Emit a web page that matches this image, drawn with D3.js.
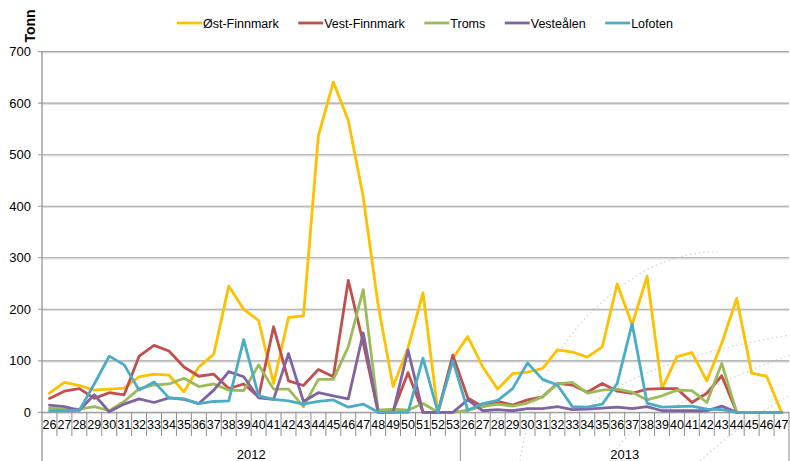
<!DOCTYPE html>
<html>
<head>
<meta charset="utf-8">
<script src="https://cdn.jsdelivr.net/npm/d3@7"></script>
<style>
  html, body { margin: 0; padding: 0; background: #fff; }
  svg { display: block; font-family: "Liberation Sans", Arial, sans-serif; }
</style>
</head>
<body>
<svg id="chart" width="790" height="461"></svg>
<script>
// ---- data ----
const years = ["2012", "2013"];
const weeks2012 = [26,27,28,29,30,31,32,33,34,35,36,37,38,39,40,41,42,43,44,45,46,47,48,49,50,51,52,53];
const weeks2013 = [26,27,28,29,30,31,32,33,34,35,36,37,38,39,40,41,42,43,44,45,46,47];
const seriesNames = ["Øst-Finnmark", "Vest-Finnmark", "Troms", "Vesteålen", "Lofoten"];
const seriesColors = ["#FFC000", "#C0504D", "#9BBB59", "#8064A2", "#4BACC6"];
const yTicks = [0, 100, 200, 300, 400, 500, 600, 700];

const ostFinnmark = [37,58,52,43,45,47,69,74,72,40,88,113,245,200,178,56,184,187,537,641,567,418,208,50,125,232,0,105,
                     147,88,45,75,78,85,121,117,107,127,249,170,264,46,108,116,61,134,221,76,70,0];
const vestFinnmark = [27,41,46,27,38,34,109,130,119,88,70,74,46,55,30,166,61,52,83,69,256,135,0,2,77,0,0,111,
                      28,11,21,14,24,30,56,53,39,56,41,37,45,46,46,19,37,71,0,0,0,0];
const troms = [8,6,6,11,3,21,46,53,55,66,50,55,43,42,92,45,45,11,64,64,127,238,4,6,4,17,0,0,
               4,11,16,12,18,30,55,58,37,43,45,39,24,32,43,42,19,95,0,0,0,0];
const vesteralen = [14,11,4,34,1,16,26,19,28,25,17,43,79,69,28,25,114,21,38,32,26,154,0,0,121,0,0,0,
                    24,3,5,3,7,7,11,5,6,8,10,7,11,3,3,3,3,12,0,0,0,0];
const lofoten = [3,3,4,55,109,92,43,59,28,26,17,21,22,141,32,25,22,16,21,24,10,16,0,0,0,105,0,100,
                 4,17,23,46,96,64,53,11,10,16,56,172,18,10,11,12,6,5,0,0,0,0];

const seriesValues = [ostFinnmark, vestFinnmark, troms, vesteralen, lofoten];
const categories = weeks2012.map(w => "2012-" + w).concat(weeks2013.map(w => "2013-" + w));
const catLabel = weeks2012.concat(weeks2013);
const groupSizes = [weeks2012.length, weeks2013.length];

// ---- layout ----
const svg = d3.select("#chart");
const L = 42, R = 789, T = 51.7, B = 412.3;

// faint watermark arcs (background decoration)
const wm = svg.append("g").attr("fill", "none").attr("stroke", "#c9d9e4")
  .attr("stroke-width", 1.3).attr("stroke-dasharray", "1.5,3");
wm.append("path").attr("d", "M520,461 Q540,330 650,268 Q690,250 720,252");
wm.append("path").attr("d", "M585,410 Q640,360 790,335");
wm.append("path").attr("d", "M650,420 Q720,380 790,355");
wm.append("path").attr("d", "M700,461 Q745,420 790,395");
wm.append("path").attr("d", "M610,461 Q620,440 640,425");

const x = d3.scaleBand().domain(categories).range([L, R]).padding(0);
const y = d3.scaleLinear().domain([0, 700]).range([B, T]);

// gridlines
const grid = svg.append("g");
grid.selectAll("line.s").data(yTicks).join("line")
  .attr("x1", L).attr("x2", R).attr("y1", d => y(d) + 1.2).attr("y2", d => y(d) + 1.2)
  .attr("stroke", "#dcdcdc").attr("stroke-width", 1);
grid.selectAll("line.g").data(yTicks).join("line")
  .attr("x1", L - 4).attr("x2", R).attr("y1", d => y(d)).attr("y2", d => y(d))
  .attr("stroke", "#a3a3a3").attr("stroke-width", 1.2);

// y axis labels
const yAxis = d3.axisLeft(y).tickValues(yTicks).tickSize(0).tickPadding(11);
const gy = svg.append("g").attr("transform", `translate(${L},0)`).call(yAxis);
gy.select(".domain").remove();
gy.selectAll("text").attr("font-size", "13px").attr("fill", "#000")
  .attr("font-family", "'Liberation Sans', Arial, sans-serif");

// vertical axis line
svg.append("line").attr("x1", L).attr("x2", L).attr("y1", T).attr("y2", 461)
  .attr("stroke", "#8c8c8c").attr("stroke-width", 1.2);

// x axis labels
const xAxis = d3.axisBottom(x).tickSize(0).tickPadding(8).tickFormat((d, i) => catLabel[i]);
const gx = svg.append("g").attr("transform", `translate(0,${B})`).call(xAxis);
gx.select(".domain").remove();
gx.selectAll("text").attr("font-size", "12.5px").attr("fill", "#000")
  .attr("font-family", "'Liberation Sans', Arial, sans-serif");

// category separators
const step = x.step();
const sepIdx = d3.range(1, categories.length + 1);
const groupEdges = [0];
groupSizes.reduce((acc, n) => { groupEdges.push(acc + n); return acc + n; }, 0);
svg.append("g").selectAll("line").data(sepIdx).join("line")
  .attr("x1", i => L + i * step).attr("x2", i => L + i * step)
  .attr("y1", B).attr("y2", i => groupEdges.includes(i) ? 461 : 436)
  .attr("stroke", "#8c8c8c").attr("stroke-width", 1);

// group labels
svg.append("g").selectAll("text").data(years).join("text")
  .attr("x", (d, i) => L + step * (groupEdges[i] + groupEdges[i + 1]) / 2)
  .attr("y", 459).attr("text-anchor", "middle").attr("font-size", "13px").text(d => d);

// lines
const line = d3.line().x((d, i) => x(categories[i]) + step / 2).y(d => y(d));
svg.append("g").selectAll("path").data(seriesValues).join("path")
  .attr("d", d => line(d)).attr("fill", "none")
  .attr("stroke", (d, i) => seriesColors[i]).attr("stroke-width", 2.8)
  .attr("stroke-linejoin", "round").attr("stroke-linecap", "round");

// axis title
svg.append("text").attr("transform", "translate(35,26) rotate(-90)")
  .attr("text-anchor", "middle").attr("font-size", "14px").attr("font-weight", "bold").text("Tonn");

// legend
const lg = svg.append("g");
let lx = 177;
seriesNames.forEach((name, i) => {
  lg.append("line").attr("x1", lx).attr("x2", lx + 25).attr("y1", 23).attr("y2", 23)
    .attr("stroke", seriesColors[i]).attr("stroke-width", 2.8);
  const t = lg.append("text").attr("x", lx + 26).attr("y", 27.5).attr("font-size", "12.5px").text(name);
  lx += 26 + t.node().getComputedTextLength() + 19.5;
});
</script>
</body>
</html>
